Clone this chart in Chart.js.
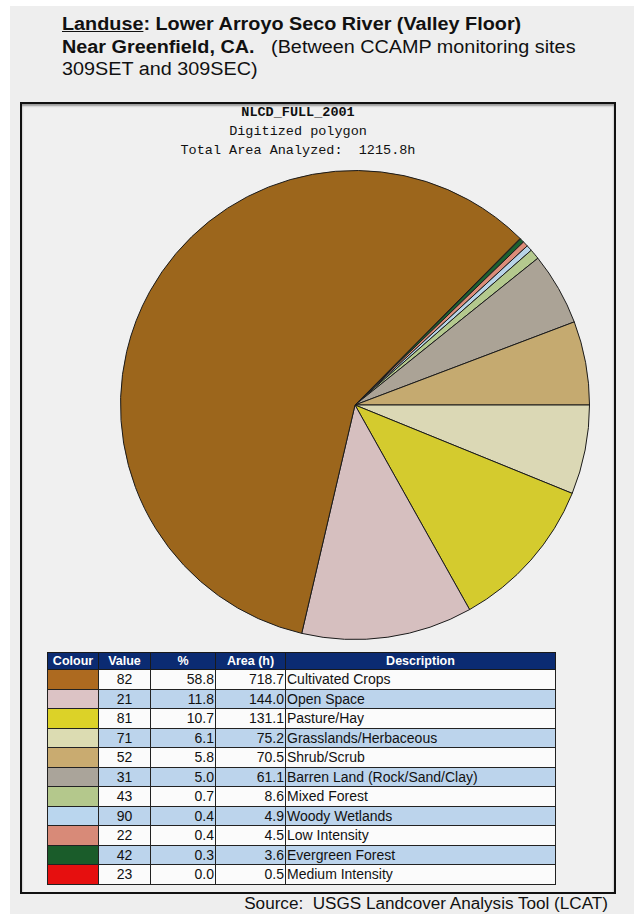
<!DOCTYPE html>
<html>
<head>
<meta charset="utf-8">
<title>Landuse - Lower Arroyo Seco River</title>
<script src="https://cdn.jsdelivr.net/npm/chart.js@4.4.0/dist/chart.umd.min.js"></script>
<style>
  body { margin: 0; width: 634px; height: 914px; background: #fff; position: relative; overflow: hidden;
         font-family: Arial, "Liberation Sans", sans-serif; color: #111; }
  #panel { position: absolute; left: 10px; top: 6px; right: 0; bottom: 0; background: #eeeeee; }
  #heading { position: absolute; left: 62px; top: 13px; font-size: 18px; line-height: 22.5px;
             white-space: nowrap; transform: scaleX(1.1); transform-origin: left top; }
  #heading b u { text-decoration-thickness: 1px; }
  #frame { position: absolute; left: 20px; top: 102px; width: 592px; height: 788px;
           border: 2px solid #111; background: #f0f0f0; box-shadow: inset 0 2px 2px #999; }
  #subtitle { position: absolute; left: 148px; top: 103px; width: 300px; text-align: center;
              font-family: "Courier New", "Liberation Mono", monospace; font-size: 13.5px; line-height: 19px; }
  #subtitle .first { font-weight: bold; }
  #pieWrap { position: absolute; left: 120px; top: 170px; width: 470px; height: 470px; }
  #landTable { position: absolute; left: 47px; top: 652px; border-collapse: collapse; font-size: 14px; }
  #landTable th { background: #0b2b72; color: #fff; font-size: 12.5px; font-weight: bold; height: 16px;
                  line-height: 16px; border: 1px solid #1a1a1a; padding: 0; }
  #landTable td { border: 1px solid #222; height: 18.5px; padding: 0 1px; line-height: 18px; }
  #landTable tr.alt td { background: #bcd4ec; }
  #landTable tr td { background: #fbfbfb; }
  #landTable td.sw { padding: 0; }
  #landTable td.num { text-align: right; }
  #landTable td.code { text-align: center; }
  #source { position: absolute; right: 26px; top: 895px; font-size: 16px; white-space: nowrap;
            transform: scaleX(1.07); transform-origin: right top; }
</style>
</head>
<body>
<div id="panel"></div>
<div id="heading">
  <b><u>Landuse</u>: Lower Arroyo Seco River (Valley Floor)</b><br>
  <b>Near Greenfield, CA.</b>&nbsp;&nbsp; (Between CCAMP monitoring sites<br>
  309SET and 309SEC)
</div>
<div id="frame"></div>
<div id="subtitle">
  <div class="first">NLCD_FULL_2001</div>
  <div>Digitized polygon</div>
  <div>Total Area Analyzed:&nbsp; 1215.8h</div>
</div>
<div id="pieWrap"><canvas id="landusePie" width="470" height="470"></canvas></div>
<table id="landTable">
  <colgroup>
    <col style="width:51px"><col style="width:52px"><col style="width:65px"><col style="width:70px"><col style="width:270px">
  </colgroup>
  <thead>
    <tr><th>Colour</th><th>Value</th><th>%</th><th>Area (h)</th><th>Description</th></tr>
  </thead>
  <tbody id="landRows"></tbody>
</table>
<div id="source">Source:&nbsp; USGS Landcover Analysis Tool (LCAT)</div>

<script>
// NLCD class codes, in table order
const codes = ['82', '21', '81', '71', '52', '31', '43', '90', '22', '42', '23'];
const descriptions = [
  'Cultivated Crops', 'Open Space', 'Pasture/Hay', 'Grasslands/Herbaceous', 'Shrub/Scrub',
  'Barren Land (Rock/Sand/Clay)', 'Mixed Forest', 'Woody Wetlands', 'Low Intensity',
  'Evergreen Forest', 'Medium Intensity'
];
const percents = [58.8, 11.8, 10.7, 6.1, 5.8, 5.0, 0.7, 0.4, 0.4, 0.3, 0.0];
const areas = [718.7, 144.0, 131.1, 75.2, 70.5, 61.1, 8.6, 4.9, 4.5, 3.6, 0.5];

const colours = ['#9c661c', '#d6bfbf', '#d4cb2e', '#dbd8b5', '#c5aa70', '#aba396',
                 '#b4c98e', '#b8d4e8', '#dc8d79', '#1b6230', '#e5130e'];
const swatches = ['#ad6a20', '#dcc3c5', '#dcd228', '#dcdcb2', '#c9ab70', '#aaa49a',
                  '#b4c88c', '#bad6ee', '#d88a78', '#1a5c2a', '#e60f0f'];

// table rows
const tbody = document.getElementById('landRows');
codes.forEach((code, i) => {
  const tr = document.createElement('tr');
  if (i % 2 === 1) tr.className = 'alt';
  tr.innerHTML =
    `<td class="sw" style="background:${swatches[i]}"></td>` +
    `<td class="code">${code}</td>` +
    `<td class="num">${percents[i].toFixed(1)}</td>` +
    `<td class="num">${areas[i].toFixed(1)}</td>` +
    `<td>${descriptions[i]}</td>`;
  tbody.appendChild(tr);
});

// the pie runs counter-clockwise in table order, Shrub/Scrub starting at 3 o'clock,
// so feed Chart.js the reversed list and rotate so Shrub/Scrub ends at 3 o'clock
const order = codes.map((c, i) => i).reverse();
const total = areas.reduce((a, b) => a + b, 0);
const beforeEast = areas.slice(codes.indexOf('52')).reduce((a, b) => a + b, 0);
const rotation = 90 - 360 * beforeEast / total;

const ctx = document.getElementById('landusePie').getContext('2d');
new Chart(ctx, {
  type: 'pie',
  data: {
    labels: order.map(i => descriptions[i]),
    datasets: [{
      data: order.map(i => areas[i]),
      backgroundColor: order.map(i => colours[i]),
      borderColor: '#1a1a1a',
      borderWidth: 1,
      hoverOffset: 0
    }]
  },
  options: {
    responsive: false,
    animation: false,
    rotation: rotation,
    layout: { padding: 0 },
    plugins: {
      legend: { display: false },
      tooltip: { enabled: false }
    }
  }
});
</script>
</body>
</html>
